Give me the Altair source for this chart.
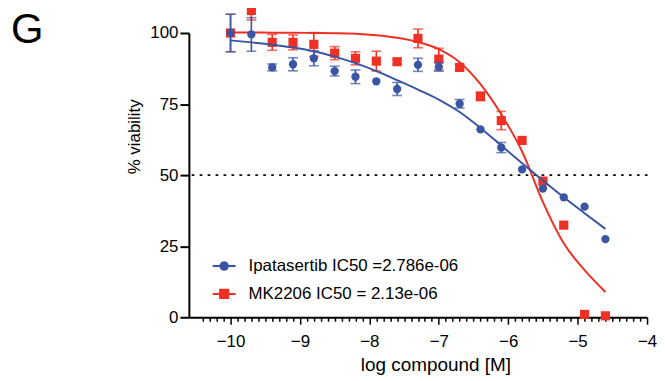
import altair as alt
import pandas as pd

# ---- data ----
log_conc = [-10.0, -9.7, -9.4, -9.1, -8.8, -8.5, -8.2, -7.9, -7.6, -7.3,
            -7.0, -6.7, -6.4, -6.1, -5.8, -5.5, -5.2, -4.9, -4.6]

ipa_mean = [100.0, 99.5, 87.9, 89.0, 91.1, 86.6, 84.6, 83.0, 80.3, 88.8,
            88.1, 75.1, 66.1, 59.7, 52.0, 45.3, 42.2, 38.9, 27.5]
ipa_err = [6.6, 5.9, 1.2, 2.3, 2.6, 1.7, 2.4, 0.0, 2.3, 2.3,
           1.5, 1.5, 0.0, 1.8, 0.0, 0.0, 0.0, 0.0, 0.0]

mk_mean = [100.0, 107.9, 96.7, 96.7, 96.0, 92.9, 91.1, 90.1, 89.9, 98.1,
           90.8, 87.9, 77.7, 69.2, 62.2, 47.9, 32.4, 1.0, 0.5]
mk_err = [6.6, 3.3, 2.8, 2.6, 4.2, 2.3, 2.3, 3.5, 0.8, 3.3,
          3.8, 1.0, 1.5, 3.2, 0.0, 0.0, 0.0, 0.0, 0.0]

# fitted curves
ipa_fit = [97.4, 96.7, 95.9, 94.9, 93.6, 91.7, 89.4, 86.6, 83.4, 80.1,
           76.6, 72.2, 66.6, 60.4, 54.2, 48.1, 42.2, 36.6, 31.1]
mk_fit = [100.2, 100.2, 100.1, 100.1, 100.0, 99.9, 99.7, 99.2, 98.3, 96.8,
          94.3, 89.7, 82.0, 71.4, 58.3, 40.5, 26.0, 16.6, 8.9]

series_names = ["Ipatasertib IC50 =2.786e-06", "MK2206 IC50 = 2.13e-06"]
series_colors = ["#3b55a5", "#ee3124"]
threshold = [50]

y_ticks = [0, 25, 50, 75, 100]

# ---- tables ----
def table(mean, err, fit, name):
    return pd.DataFrame({
        "x": log_conc, "mean": mean, "err": err, "fit": fit,
        "lo": [m - e for m, e in zip(mean, err)],
        "hi": [m + e for m, e in zip(mean, err)],
        "series": name,
    })

ipa = table(ipa_mean, ipa_err, ipa_fit, series_names[0])
mk = table(mk_mean, mk_err, mk_fit, series_names[1])
both = pd.concat([ipa, mk], ignore_index=True)

FONT = "Liberation Sans"
minor_ticks = [round(-10.4 + 0.1 * i, 1) for i in range(65)]
is_major = "abs(datum.value - round(datum.value)) < 0.01"

xscale = alt.Scale(domain=[-10.6, -4], nice=False, zero=False)
yscale = alt.Scale(domain=[0, 100], nice=False, zero=False)

x_axis = alt.Axis(
    values=minor_ticks, tickCount=500,
    labelExpr=f"{is_major} ? format(round(datum.value), 'd') : ''",
    tickSize={"condition": {"test": is_major, "value": 7}, "value": 4},
    tickWidth=1.5, tickColor="black", domainColor="black", domainWidth=2,
    labelFont=FONT, labelFontSize=17, labelColor="black", labelPadding=9,
    labelOverlap=False, labelFlush=False, grid=False,
    title="log compound [M]", titleFont=FONT, titleFontSize=19,
    titleFontWeight="normal", titleColor="black", titleX=248, titleY=54,
    titleBaseline="alphabetic", titleAlign="center",
)
y_axis = alt.Axis(
    values=y_ticks, tickSize=9, tickWidth=2, tickColor="black",
    domainColor="black", domainWidth=2, labelFont=FONT, labelFontSize=17,
    labelColor="black", labelPadding=2, grid=False,
    title="% viability", titleFont=FONT, titleFontSize=17,
    titleFontWeight="normal", titleColor="black", titleX=-50, titleY=104,
    titleBaseline="alphabetic", titleAlign="center", titleAngle=270,
)

X = alt.X("x:Q", scale=xscale, axis=x_axis)

def Y(field):
    return alt.Y(field, scale=yscale, axis=y_axis)

thr = alt.Chart(pd.DataFrame({"y": threshold})).mark_rule(
    color="black", strokeWidth=1.6, strokeDash=[1.6, 6.4], strokeCap="round"
).encode(y=Y("y:Q"))

def series_layers(df, color, shape, size):
    base = alt.Chart(df)
    curve = base.mark_line(color=color, strokeWidth=2, interpolate="monotone").encode(
        x=X, y=Y("fit:Q"))
    eb = base.transform_filter("datum.err > 0")
    rule = eb.mark_rule(color=color, strokeWidth=1.6).encode(
        x=X, y=Y("lo:Q"), y2="hi:Q")
    cap_lo = eb.mark_tick(color=color, orient="horizontal", size=10, thickness=1.6).encode(
        x=X, y=Y("lo:Q"))
    cap_hi = eb.mark_tick(color=color, orient="horizontal", size=10, thickness=1.6).encode(
        x=X, y=Y("hi:Q"))
    pts = base.mark_point(color=color, shape=shape, filled=True, size=size, opacity=1).encode(
        x=X, y=Y("mean:Q"))
    return curve, rule, cap_lo, cap_hi, pts

mk_layers = series_layers(mk, series_colors[1], "square", 85)
ipa_layers = series_layers(ipa, series_colors[0], "circle", 70)

# legend-only layer (no rows drawn), symbols are line + marker paths
legend_paths = [
    "M-1,0L1,0M0.33,0A0.33,0.33,0,1,1,-0.33,0A0.33,0.33,0,1,1,0.33,0Z",
    "M-1,0L1,0M-0.36,-0.36L0.36,-0.36L0.36,0.36L-0.36,0.36Z",
]
leg = alt.Legend(
    title=None, orient="none", legendX=23, legendY=222, padding=0,
    symbolSize=529, symbolStrokeWidth=2, labelFont=FONT, labelFontSize=17,
    labelColor="black", labelOffset=12, rowPadding=7, labelLimit=400,
)
legend_layer = alt.Chart(both).transform_filter("datum.x > 100").mark_point(
    filled=True, opacity=1
).encode(
    x=X, y=Y("mean:Q"),
    fill=alt.Fill("series:N", scale=alt.Scale(domain=series_names, range=series_colors), legend=leg),
    stroke=alt.Stroke("series:N", scale=alt.Scale(domain=series_names, range=series_colors), legend=leg),
    shape=alt.Shape("series:N", scale=alt.Scale(domain=series_names, range=legend_paths), legend=leg),
)

chart = alt.layer(
    thr, *mk_layers, *ipa_layers, legend_layer
).properties(
    width=461, height=286,
    autosize=alt.AutoSizeParams(type="none"),
    padding={"left": 182, "top": 24, "right": 10, "bottom": 62},
    background="white",
    title=alt.TitleParams("G", anchor="start", frame="group", dx=-179, dy=56,
                          fontSize=42, fontWeight="normal", font=FONT, color="black"),
).configure_view(stroke=None)

chart.save("out.html", embed_options={"renderer": "svg", "actions": False})
